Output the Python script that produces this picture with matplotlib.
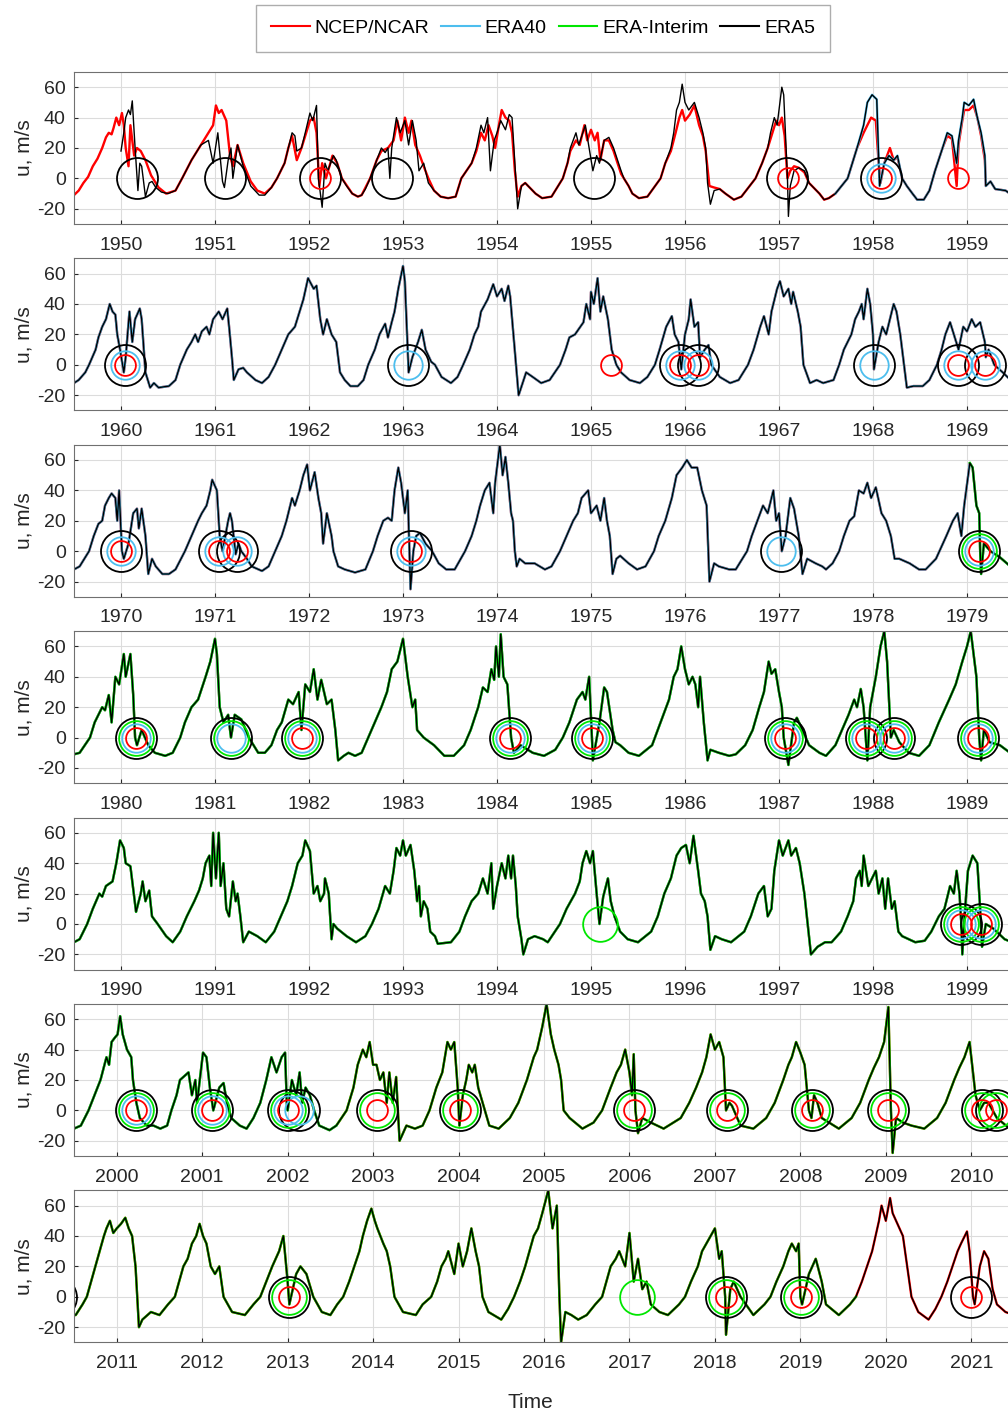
import numpy as np
import matplotlib
matplotlib.use('Agg')
import matplotlib.pyplot as plt
from matplotlib.lines import Line2D

plt.rcParams['font.family'] = ['Liberation Sans', 'DejaVu Sans']
plt.rcParams['axes.unicode_minus'] = False

# zonal wind u (m/s) as (decimal year, u) keypoints
# ERA5 (the other reanalyses coincide with it except NCEP in the 1950s)
era5_1950s = [
    (1950.00, 18), (1950.03, 30), (1950.05, 40), (1950.08, 45), (1950.10, 42), (1950.12, 51), (1950.15, 20),
    (1950.18, -8), (1950.20, 10), (1950.22, 8), (1950.26, -12), (1950.30, -3), (1950.33, -2), (1950.37, -6),
    (1950.43, -9), (1950.50, -10),
    (1950.58, -8), (1950.65, 0), (1950.75, 12), (1950.85, 22), (1950.93, 25), (1950.98, 10), (1951.03, 30),
    (1951.08, -2), (1951.10, -6), (1951.14, 12), (1951.17, 20), (1951.19, 0), (1951.24, 22), (1951.30, 8),
    (1951.38, -5), (1951.47, -11), (1951.53, -11),
    (1951.60, -6), (1951.66, 0), (1951.74, 10), (1951.78, 20), (1951.82, 30), (1951.85, 28), (1951.87, 18),
    (1951.92, 20), (1951.96, 30), (1952.01, 43), (1952.04, 38), (1952.08, 48), (1952.10, 0), (1952.14, -19),
    (1952.17, 10), (1952.20, 5), (1952.26, 15), (1952.29, 12), (1952.35, 0), (1952.40, -5), (1952.46, -10),
    (1952.52, -12),
    (1952.56, -11), (1952.60, -7), (1952.65, 0), (1952.72, 12), (1952.77, 20), (1952.81, 17), (1952.84, 20),
    (1952.86, 0), (1952.88, 20), (1952.93, 40), (1952.97, 30), (1953.02, 38), (1953.06, 22), (1953.10, 38),
    (1953.14, 25), (1953.17, 5), (1953.22, 10), (1953.27, -3), (1953.33, -8), (1953.40, -12), (1953.48, -13),
    (1953.56, -12), (1953.62, 0), (1953.73, 10), (1953.78, 20), (1953.83, 35), (1953.86, 30), (1953.90, 40),
    (1953.93, 5), (1953.97, 25), (1954.00, 30), (1954.04, 38), (1954.09, 32), (1954.13, 42), (1954.16, 40),
    (1954.19, 10), (1954.22, -20), (1954.26, -5), (1954.30, -3), (1954.41, -10), (1954.48, -13),
    (1954.58, -12), (1954.70, 0), (1954.75, 10), (1954.78, 20), (1954.84, 30), (1954.87, 22), (1954.94, 35),
    (1954.98, 20), (1955.02, 5), (1955.06, 15), (1955.09, 10), (1955.14, 25), (1955.19, 27), (1955.24, 20),
    (1955.32, 5), (1955.35, 0), (1955.40, -5), (1955.44, -10), (1955.51, -13),
    (1955.60, -12), (1955.74, 0), (1955.79, 10), (1955.85, 20), (1955.88, 30), (1955.91, 45), (1955.94, 50),
    (1955.97, 62), (1956.00, 50), (1956.04, 45), (1956.10, 50), (1956.15, 40), (1956.19, 30), (1956.22, 20),
    (1956.24, -3), (1956.27, -17), (1956.31, -8), (1956.37, -7), (1956.43, -10), (1956.52, -14),
    (1956.60, -12), (1956.75, 0), (1956.82, 10), (1956.88, 20), (1956.91, 30), (1956.95, 40), (1956.98, 35),
    (1957.03, 60), (1957.05, 55), (1957.09, 0), (1957.10, -25), (1957.12, -5), (1957.16, 5), (1957.21, 7),
    (1957.27, 5), (1957.32, -3), (1957.43, -10), (1957.48, -14), (1957.53, -13),
    (1957.60, -10), (1957.73, 0), (1957.78, 10), (1957.83, 20), (1957.90, 35), (1957.94, 50), (1957.99, 55),
    (1958.04, 52), (1958.06, 15), (1958.07, -5), (1958.12, 10), (1958.17, 15), (1958.22, 12), (1958.26, 15),
    (1958.31, 0), (1958.36, -5), (1958.42, -10), (1958.47, -14), (1958.54, -14),
    (1958.60, -8), (1958.66, 5), (1958.74, 20), (1958.79, 30), (1958.84, 28), (1958.89, 10), (1958.91, 25),
    (1958.95, 40), (1958.97, 50), (1959.02, 48), (1959.07, 52), (1959.11, 40), (1959.15, 30), (1959.19, 15),
    (1959.20, -5), (1959.25, -2), (1959.30, -7), (1959.41, -8), (1959.48, -11),
]

ncep_1950s = [
    (1949.50, -11), (1949.55, -8), (1949.60, -3), (1949.65, 1), (1949.70, 8), (1949.75, 13), (1949.80, 20),
    (1949.84, 27), (1949.87, 30), (1949.90, 29), (1949.92, 33), (1949.95, 40), (1949.98, 35), (1950.01, 43),
    (1950.03, 35), (1950.05, 20), (1950.08, 8), (1950.10, 35), (1950.14, 15), (1950.17, 20), (1950.21, 18),
    (1950.26, 12), (1950.32, 2), (1950.40, -6), (1950.48, -10),
    (1950.58, -8), (1950.65, 0), (1950.75, 12), (1950.85, 22), (1950.95, 32), (1950.98, 35), (1951.01, 48),
    (1951.04, 43), (1951.07, 45), (1951.12, 38), (1951.16, 15), (1951.19, 8), (1951.24, 22), (1951.30, 10),
    (1951.38, -2), (1951.45, -8), (1951.53, -10),
    (1951.60, -6), (1951.66, 0), (1951.74, 10), (1951.78, 20), (1951.82, 28), (1951.87, 12), (1951.92, 20),
    (1951.96, 28), (1952.01, 38), (1952.05, 40), (1952.08, 30), (1952.11, -5), (1952.14, 10), (1952.18, 0),
    (1952.25, 15), (1952.30, 10), (1952.35, 0), (1952.46, -10), (1952.52, -12),
    (1952.56, -11), (1952.65, 0), (1952.72, 12), (1952.77, 18), (1952.84, 20), (1952.90, 25), (1952.94, 38),
    (1952.98, 25), (1953.02, 40), (1953.06, 30), (1953.09, 38), (1953.13, 22), (1953.18, 15), (1953.22, 8),
    (1953.27, 0), (1953.33, -8), (1953.40, -12), (1953.48, -13),
    (1953.56, -12), (1953.62, 0), (1953.73, 10), (1953.78, 18), (1953.83, 30), (1953.87, 25), (1953.91, 35),
    (1953.95, 28), (1953.98, 20), (1954.02, 35), (1954.05, 45), (1954.09, 40), (1954.13, 38), (1954.16, 30),
    (1954.19, 5), (1954.22, -12), (1954.26, -5), (1954.30, -3), (1954.41, -10), (1954.48, -13),
    (1954.58, -12), (1954.70, 0), (1954.75, 10), (1954.78, 18), (1954.84, 25), (1954.88, 22), (1954.93, 35),
    (1954.96, 25), (1955.00, 32), (1955.04, 25), (1955.07, 30), (1955.10, 12), (1955.14, 25), (1955.19, 25),
    (1955.24, 18), (1955.32, 3), (1955.40, -5), (1955.44, -10), (1955.51, -13),
    (1955.60, -12), (1955.74, 0), (1955.79, 10), (1955.85, 18), (1955.90, 30), (1955.94, 40), (1955.97, 45),
    (1956.00, 38), (1956.05, 42), (1956.10, 48), (1956.15, 35), (1956.19, 28), (1956.22, 18), (1956.26, -5),
    (1956.31, -6), (1956.37, -7), (1956.43, -10), (1956.52, -14),
    (1956.60, -12), (1956.75, 0), (1956.82, 10), (1956.88, 20), (1956.93, 30), (1956.97, 38), (1957.00, 35),
    (1957.03, 40), (1957.06, 28), (1957.09, 0), (1957.12, 5), (1957.16, 8), (1957.21, 7), (1957.27, 4),
    (1957.32, -3), (1957.43, -10), (1957.48, -14), (1957.53, -13),
    (1957.60, -10), (1957.73, 0), (1957.78, 10), (1957.83, 20), (1957.90, 30), (1957.94, 35), (1957.98, 40),
    (1958.03, 38), (1958.06, 10), (1958.08, -3), (1958.12, 10), (1958.18, 20), (1958.22, 12), (1958.26, 14),
    (1958.31, 0), (1958.36, -5), (1958.42, -10), (1958.47, -14), (1958.54, -14),
    (1958.60, -8), (1958.66, 5), (1958.74, 20), (1958.79, 28), (1958.84, 26), (1958.89, -5), (1958.91, 22),
    (1958.95, 38), (1958.97, 45), (1959.02, 45), (1959.07, 48), (1959.11, 40), (1959.15, 28), (1959.19, 12),
    (1959.20, -5), (1959.25, -2), (1959.30, -7), (1959.41, -8), (1959.48, -11),
]

era5_1960s = [
    (1959.50, -12), (1959.55, -10), (1959.62, -5), (1959.66, 0), (1959.73, 10), (1959.76, 18), (1959.80, 25),
    (1959.84, 30), (1959.88, 40), (1959.91, 35), (1959.94, 33), (1959.96, 20), (1959.99, 10), (1960.03, -5),
    (1960.05, 5), (1960.09, 35), (1960.12, 15), (1960.15, 30), (1960.20, 37), (1960.22, 30), (1960.26, -5),
    (1960.31, -15), (1960.35, -12), (1960.40, -15), (1960.51, -14),
    (1960.58, -10), (1960.63, 0), (1960.70, 10), (1960.75, 15), (1960.79, 20), (1960.82, 15), (1960.86, 22),
    (1960.91, 25), (1960.94, 20), (1960.98, 30), (1961.04, 35), (1961.08, 30), (1961.13, 37), (1961.15, 25),
    (1961.18, 5), (1961.20, -10), (1961.25, -3), (1961.30, -2), (1961.34, -5), (1961.43, -10), (1961.50, -12),
    (1961.57, -8), (1961.64, 0), (1961.71, 10), (1961.78, 20), (1961.85, 25), (1961.90, 35), (1961.94, 43),
    (1961.99, 57), (1962.05, 50), (1962.08, 52), (1962.12, 30), (1962.15, 20), (1962.19, 30), (1962.24, 20),
    (1962.29, 15), (1962.33, -5), (1962.38, -10), (1962.44, -14), (1962.52, -14),
    (1962.58, -10), (1962.63, 0), (1962.70, 10), (1962.75, 20), (1962.81, 27), (1962.84, 18), (1962.88, 28),
    (1962.91, 35), (1962.95, 50), (1963.00, 65), (1963.02, 55), (1963.06, -5), (1963.10, 5), (1963.16, 15),
    (1963.20, 23), (1963.24, 10), (1963.30, 2), (1963.34, 0), (1963.41, -8), (1963.51, -12),
    (1963.58, -8), (1963.64, 0), (1963.71, 10), (1963.76, 20), (1963.80, 25), (1963.83, 35), (1963.90, 43),
    (1963.96, 53), (1964.00, 45), (1964.05, 50), (1964.08, 42), (1964.12, 52), (1964.14, 45), (1964.23, -20),
    (1964.31, -5), (1964.38, -8), (1964.47, -12), (1964.56, -10),
    (1964.67, 0), (1964.73, 10), (1964.77, 18), (1964.83, 20), (1964.92, 28), (1964.95, 40), (1964.99, 30),
    (1965.00, 48), (1965.03, 40), (1965.07, 57), (1965.10, 35), (1965.13, 45), (1965.18, 30), (1965.22, 10),
    (1965.27, 0), (1965.32, -5), (1965.41, -10), (1965.52, -12),
    (1965.60, -8), (1965.68, 0), (1965.73, 10), (1965.80, 25), (1965.86, 32), (1965.89, 20), (1965.93, 15),
    (1965.96, -3), (1966.00, 20), (1966.04, 30), (1966.06, 43), (1966.10, 25), (1966.14, 28), (1966.16, 5),
    (1966.21, 10), (1966.25, 13), (1966.28, 0), (1966.37, -8), (1966.48, -12), (1966.57, -10),
    (1966.67, 0), (1966.73, 10), (1966.80, 25), (1966.84, 32), (1966.89, 20), (1966.92, 35), (1966.98, 50),
    (1967.01, 55), (1967.05, 45), (1967.10, 50), (1967.13, 40), (1967.15, 48), (1967.20, 35), (1967.23, 25),
    (1967.26, 0), (1967.33, -12), (1967.40, -10), (1967.47, -12), (1967.58, -10),
    (1967.64, 0), (1967.69, 10), (1967.77, 20), (1967.81, 30), (1967.85, 35), (1967.88, 40), (1967.90, 30),
    (1967.94, 50), (1967.97, 40), (1968.00, 20), (1968.01, -3), (1968.06, 15), (1968.10, 25), (1968.14, 20),
    (1968.18, 30), (1968.22, 40), (1968.25, 35), (1968.29, 20), (1968.33, 0), (1968.36, -15), (1968.43, -14),
    (1968.53, -14),
    (1968.60, -10), (1968.68, 0), (1968.73, 10), (1968.77, 20), (1968.82, 28), (1968.86, 20), (1968.91, 10),
    (1968.96, 25), (1969.00, 22), (1969.05, 30), (1969.09, 25), (1969.14, 28), (1969.19, 15), (1969.20, 5),
    (1969.23, 10), (1969.29, 0), (1969.38, -5), (1969.48, -11),
]

era5_1970s = [
    (1969.50, -12), (1969.56, -10), (1969.66, 0), (1969.71, 10), (1969.76, 18), (1969.80, 20), (1969.83, 30),
    (1969.87, 35), (1969.90, 38), (1969.94, 35), (1969.96, 20), (1969.98, 40), (1970.01, 0), (1970.03, -5),
    (1970.08, 5), (1970.13, 25), (1970.17, 28), (1970.19, 15), (1970.22, 28), (1970.26, 10), (1970.29, -15),
    (1970.33, -5), (1970.37, -10), (1970.44, -15), (1970.51, -15),
    (1970.58, -12), (1970.68, 0), (1970.75, 10), (1970.82, 20), (1970.86, 25), (1970.91, 30), (1970.95, 40),
    (1970.97, 47), (1971.02, 40), (1971.05, 10), (1971.08, 0), (1971.11, 10), (1971.14, 20), (1971.16, 25),
    (1971.18, 20), (1971.22, -2), (1971.25, 5), (1971.28, 0), (1971.34, -5), (1971.39, -10), (1971.50, -13),
    (1971.57, -10), (1971.64, 0), (1971.71, 10), (1971.76, 20), (1971.82, 35), (1971.85, 30), (1971.90, 40),
    (1971.94, 50), (1971.98, 57), (1972.01, 40), (1972.06, 52), (1972.10, 35), (1972.13, 25), (1972.15, 5),
    (1972.19, 25), (1972.24, 10), (1972.26, 0), (1972.31, -10), (1972.38, -12), (1972.49, -14),
    (1972.60, -12), (1972.68, 0), (1972.73, 10), (1972.79, 20), (1972.84, 22), (1972.88, 20), (1972.91, 40),
    (1972.95, 55), (1972.98, 45), (1973.02, 25), (1973.05, 40), (1973.08, -25), (1973.11, 0), (1973.14, 10),
    (1973.18, 12), (1973.24, 5), (1973.31, 0), (1973.38, -8), (1973.46, -12), (1973.55, -12),
    (1973.66, 0), (1973.73, 10), (1973.78, 20), (1973.82, 30), (1973.87, 40), (1973.92, 45), (1973.96, 25),
    (1973.98, 45), (1974.03, 70), (1974.06, 50), (1974.09, 62), (1974.12, 45), (1974.15, 25), (1974.17, 20),
    (1974.19, 0), (1974.21, -10), (1974.24, -5), (1974.30, -8), (1974.40, -8), (1974.51, -12),
    (1974.58, -10), (1974.67, 0), (1974.74, 10), (1974.81, 20), (1974.86, 25), (1974.90, 35), (1974.97, 40),
    (1975.00, 25), (1975.06, 30), (1975.10, 20), (1975.14, 35), (1975.17, 20), (1975.20, 10), (1975.23, -15),
    (1975.27, -5), (1975.31, -3), (1975.40, -8), (1975.49, -12),
    (1975.58, -10), (1975.67, 0), (1975.72, 10), (1975.79, 20), (1975.86, 35), (1975.91, 50), (1975.97, 55),
    (1976.02, 60), (1976.07, 55), (1976.13, 55), (1976.18, 40), (1976.23, 30), (1976.26, -20), (1976.31, -8),
    (1976.36, -10), (1976.47, -12), (1976.54, -12),
    (1976.66, 0), (1976.71, 10), (1976.77, 20), (1976.83, 30), (1976.88, 25), (1976.94, 40), (1976.97, 20),
    (1977.00, 25), (1977.03, 0), (1977.07, 10), (1977.12, 35), (1977.16, 28), (1977.21, 10), (1977.25, -15),
    (1977.30, -5), (1977.39, -8), (1977.46, -10), (1977.50, -12),
    (1977.57, -8), (1977.64, 0), (1977.69, 10), (1977.75, 20), (1977.80, 23), (1977.85, 40), (1977.90, 38),
    (1977.94, 45), (1977.98, 35), (1978.03, 42), (1978.09, 25), (1978.14, 20), (1978.19, 10), (1978.23, -5),
    (1978.28, -5), (1978.39, -8), (1978.49, -12), (1978.56, -12),
    (1978.67, -5), (1978.78, 10), (1978.85, 20), (1978.90, 25), (1978.94, 10), (1978.97, 30), (1979.03, 58),
    (1979.06, 55), (1979.10, 30), (1979.13, 25), (1979.14, 0), (1979.15, -15), (1979.18, 5), (1979.25, 0),
    (1979.35, -4), (1979.48, -11),
]

era5_1980s = [
    (1979.50, -11), (1979.56, -10), (1979.67, 0), (1979.72, 10), (1979.80, 20), (1979.83, 18), (1979.87, 28),
    (1979.90, 10), (1979.94, 40), (1979.98, 35), (1980.03, 55), (1980.05, 40), (1980.10, 55), (1980.13, 28),
    (1980.15, 0), (1980.17, -5), (1980.22, 5), (1980.29, -5), (1980.36, -10), (1980.47, -12),
    (1980.55, -10), (1980.63, 0), (1980.68, 10), (1980.75, 20), (1980.82, 25), (1980.90, 40), (1980.95, 50),
    (1981.00, 65), (1981.02, 55), (1981.05, 20), (1981.09, 10), (1981.14, 15), (1981.17, 0), (1981.21, 15),
    (1981.28, 12), (1981.36, 0), (1981.46, -10), (1981.53, -10),
    (1981.60, -5), (1981.66, 5), (1981.71, 10), (1981.78, 25), (1981.83, 22), (1981.89, 30), (1981.92, 5),
    (1981.96, 35), (1982.01, 30), (1982.05, 45), (1982.09, 25), (1982.13, 38), (1982.19, 22), (1982.24, 25),
    (1982.28, 5), (1982.31, -15), (1982.37, -12), (1982.42, -10), (1982.49, -12),
    (1982.56, -10), (1982.63, 0), (1982.70, 10), (1982.77, 20), (1982.83, 30), (1982.88, 45), (1982.94, 50),
    (1983.00, 65), (1983.05, 40), (1983.10, 20), (1983.13, 25), (1983.15, 5), (1983.22, 0), (1983.33, -5),
    (1983.44, -12), (1983.54, -12),
    (1983.65, -5), (1983.72, 5), (1983.80, 20), (1983.85, 33), (1983.90, 30), (1983.94, 45), (1983.97, 38),
    (1983.99, 60), (1984.02, 40), (1984.04, 68), (1984.07, 40), (1984.11, 35), (1984.15, 0), (1984.18, -10),
    (1984.25, -5), (1984.38, -10), (1984.50, -12),
    (1984.62, -8), (1984.70, 0), (1984.77, 10), (1984.85, 25), (1984.91, 30), (1984.94, 25), (1984.98, 40),
    (1985.01, 0), (1985.02, -15), (1985.09, 10), (1985.14, 33), (1985.17, 30), (1985.23, 5), (1985.26, -3),
    (1985.31, -5), (1985.40, -10), (1985.51, -12),
    (1985.65, -5), (1985.74, 10), (1985.83, 25), (1985.88, 40), (1985.92, 45), (1985.96, 60), (1986.00, 45),
    (1986.04, 35), (1986.08, 40), (1986.11, 35), (1986.14, 20), (1986.16, 40), (1986.20, 10), (1986.24, -15),
    (1986.27, -8), (1986.36, -10), (1986.47, -12), (1986.54, -11),
    (1986.64, -5), (1986.72, 5), (1986.79, 20), (1986.84, 30), (1986.89, 50), (1986.92, 42), (1986.96, 45),
    (1987.00, 30), (1987.03, 20), (1987.05, 0), (1987.10, -18), (1987.16, 10), (1987.19, 13), (1987.25, 5),
    (1987.32, -5), (1987.43, -10), (1987.50, -12),
    (1987.60, -5), (1987.67, 5), (1987.74, 15), (1987.80, 25), (1987.83, 20), (1987.87, 32), (1987.90, 20),
    (1987.94, -15), (1987.97, 20), (1988.03, 40), (1988.08, 60), (1988.12, 70), (1988.15, 50), (1988.19, 0),
    (1988.22, 5), (1988.28, -3), (1988.38, -10), (1988.49, -12),
    (1988.60, -5), (1988.70, 10), (1988.81, 25), (1988.88, 35), (1988.95, 50), (1989.00, 60), (1989.04, 70),
    (1989.07, 55), (1989.10, 40), (1989.13, 0), (1989.15, -15), (1989.18, 5), (1989.24, -3), (1989.35, -5),
    (1989.48, -11),
]

era5_1990s = [
    (1989.50, -12), (1989.56, -10), (1989.64, 0), (1989.70, 10), (1989.77, 20), (1989.80, 18), (1989.84, 25),
    (1989.91, 28), (1989.95, 40), (1989.99, 55), (1990.03, 50), (1990.05, 40), (1990.10, 38), (1990.16, 8),
    (1990.21, 20), (1990.23, 28), (1990.26, 15), (1990.30, 22), (1990.33, 5), (1990.39, 0), (1990.48, -8),
    (1990.55, -12),
    (1990.63, -5), (1990.70, 5), (1990.78, 15), (1990.83, 22), (1990.87, 30), (1990.90, 40), (1990.94, 45),
    (1990.96, 25), (1990.98, 60), (1991.01, 30), (1991.04, 60), (1991.06, 25), (1991.09, 40), (1991.12, 10),
    (1991.15, 5), (1991.19, 28), (1991.22, 15), (1991.24, 20), (1991.27, 5), (1991.30, -12), (1991.36, -5),
    (1991.45, -8), (1991.54, -12),
    (1991.63, -5), (1991.70, 5), (1991.77, 15), (1991.82, 25), (1991.88, 40), (1991.93, 45), (1991.96, 55),
    (1992.01, 48), (1992.05, 20), (1992.09, 25), (1992.12, 15), (1992.16, 20), (1992.17, 30), (1992.21, 20),
    (1992.24, -10), (1992.26, 0), (1992.30, -3), (1992.40, -8), (1992.50, -12),
    (1992.60, -8), (1992.67, 0), (1992.74, 10), (1992.81, 25), (1992.86, 20), (1992.90, 35), (1992.93, 50),
    (1992.97, 45), (1993.00, 55), (1993.03, 45), (1993.08, 52), (1993.12, 35), (1993.15, 15), (1993.17, 25),
    (1993.19, 5), (1993.22, 15), (1993.26, 10), (1993.29, -5), (1993.34, -8), (1993.37, -13), (1993.51, -12),
    (1993.60, -5), (1993.66, 5), (1993.73, 15), (1993.80, 20), (1993.85, 30), (1993.90, 20), (1993.94, 40),
    (1993.96, 10), (1994.00, 25), (1994.05, 40), (1994.09, 30), (1994.12, 45), (1994.15, 30), (1994.17, 45),
    (1994.20, 25), (1994.22, 5), (1994.26, -10), (1994.28, -20), (1994.33, -10), (1994.40, -8), (1994.49, -10),
    (1994.54, -12),
    (1994.67, 0), (1994.74, 10), (1994.83, 20), (1994.88, 28), (1994.91, 40), (1994.95, 48), (1994.99, 40),
    (1995.02, 48), (1995.06, 20), (1995.09, 0), (1995.13, 18), (1995.18, 30), (1995.21, 15), (1995.25, 5),
    (1995.31, -5), (1995.39, -10), (1995.50, -12),
    (1995.64, -5), (1995.71, 5), (1995.78, 20), (1995.85, 30), (1995.91, 45), (1995.96, 50), (1996.01, 52),
    (1996.05, 40), (1996.09, 58), (1996.14, 35), (1996.17, 20), (1996.21, 15), (1996.24, 5), (1996.27, -17),
    (1996.32, -8), (1996.39, -10), (1996.49, -12),
    (1996.63, -5), (1996.70, 5), (1996.78, 20), (1996.84, 25), (1996.88, 5), (1996.92, 10), (1996.95, 35),
    (1997.00, 55), (1997.04, 45), (1997.10, 55), (1997.13, 45), (1997.18, 50), (1997.22, 40), (1997.27, 20),
    (1997.34, -20), (1997.41, -15), (1997.49, -12), (1997.56, -12),
    (1997.66, -5), (1997.73, 5), (1997.79, 15), (1997.82, 30), (1997.86, 35), (1997.88, 25), (1997.90, 45),
    (1997.95, 25), (1998.03, 35), (1998.06, 20), (1998.10, 30), (1998.13, 10), (1998.16, 30), (1998.20, 10),
    (1998.23, 15), (1998.27, -5), (1998.31, -8), (1998.38, -10), (1998.45, -12), (1998.55, -11),
    (1998.62, -5), (1998.70, 5), (1998.76, 10), (1998.82, 25), (1998.86, 20), (1998.89, 35), (1998.92, 20),
    (1998.94, 0), (1998.95, -20), (1998.98, 10), (1999.01, 35), (1999.06, 45), (1999.11, 40), (1999.14, 10),
    (1999.16, -15), (1999.20, 0), (1999.28, -3), (1999.40, -10), (1999.48, -12),
]

era5_2000s = [
    (1999.50, -12), (1999.58, -10), (1999.67, 0), (1999.74, 10), (1999.81, 20), (1999.88, 35), (1999.91, 30),
    (1999.94, 45), (1999.98, 48), (2000.01, 50), (2000.04, 62), (2000.07, 50), (2000.12, 40), (2000.17, 35),
    (2000.19, 20), (2000.23, 5), (2000.27, -5), (2000.35, -10), (2000.43, -10), (2000.51, -12),
    (2000.59, -10), (2000.64, 0), (2000.70, 10), (2000.74, 20), (2000.84, 25), (2000.88, 10), (2000.92, 20),
    (2000.94, 5), (2001.01, 38), (2001.05, 35), (2001.09, 15), (2001.13, 0), (2001.20, 15), (2001.25, 18),
    (2001.29, 5), (2001.34, -5), (2001.44, -10), (2001.52, -12),
    (2001.60, -5), (2001.68, 5), (2001.75, 20), (2001.81, 35), (2001.87, 25), (2001.93, 35), (2001.97, 38),
    (2001.99, 5), (2002.00, 0), (2002.05, 20), (2002.10, 10), (2002.14, 25), (2002.17, 5), (2002.21, 15),
    (2002.26, 10), (2002.31, 0), (2002.37, -10), (2002.49, -13),
    (2002.57, -10), (2002.69, 0), (2002.77, 15), (2002.82, 30), (2002.88, 40), (2002.92, 35), (2002.96, 45),
    (2003.00, 30), (2003.04, 30), (2003.08, 20), (2003.12, 25), (2003.16, 5), (2003.19, 25), (2003.23, 5),
    (2003.27, 22), (2003.29, 0), (2003.31, -20), (2003.39, -10), (2003.49, -12),
    (2003.58, -10), (2003.66, 0), (2003.74, 15), (2003.81, 25), (2003.87, 45), (2003.91, 40), (2003.95, 45),
    (2003.99, 15), (2004.01, -10), (2004.05, 10), (2004.09, 20), (2004.12, 30), (2004.16, 25), (2004.19, 30),
    (2004.23, 15), (2004.36, -10), (2004.47, -12),
    (2004.60, -5), (2004.70, 5), (2004.80, 20), (2004.88, 35), (2004.92, 40), (2004.98, 55), (2005.03, 70),
    (2005.08, 50), (2005.12, 40), (2005.17, 30), (2005.20, 20), (2005.23, 0), (2005.30, -5), (2005.45, -12),
    (2005.58, -8), (2005.68, 0), (2005.78, 15), (2005.85, 25), (2005.90, 30), (2005.95, 40), (2006.00, 25),
    (2006.03, 10), (2006.05, 37), (2006.07, 0), (2006.10, -15), (2006.15, -5), (2006.25, -8), (2006.40, -12),
    (2006.60, -5), (2006.70, 5), (2006.78, 15), (2006.85, 25), (2006.90, 35), (2006.95, 50), (2007.00, 40),
    (2007.05, 45), (2007.10, 35), (2007.13, 0), (2007.17, 5), (2007.20, 3), (2007.30, -10), (2007.45, -12),
    (2007.60, -5), (2007.70, 5), (2007.80, 20), (2007.86, 30), (2007.90, 35), (2007.95, 45), (2008.00, 38),
    (2008.05, 30), (2008.10, 0), (2008.13, -5), (2008.16, 10), (2008.20, 5), (2008.25, -5), (2008.45, -12),
    (2008.60, -5), (2008.70, 5), (2008.80, 20), (2008.86, 28), (2008.92, 35), (2008.98, 45), (2009.03, 68),
    (2009.06, 0), (2009.08, -28), (2009.12, -5), (2009.20, -8), (2009.30, -10), (2009.45, -12),
    (2009.60, -5), (2009.70, 5), (2009.80, 20), (2009.86, 28), (2009.92, 35), (2009.98, 45), (2010.02, 25),
    (2010.05, 10), (2010.10, 0), (2010.15, 5), (2010.20, 5), (2010.25, 0), (2010.30, -5), (2010.45, -12),
]

era5_2010s = [
    (2010.52, -12), (2010.60, -5), (2010.65, 0), (2010.75, 20), (2010.80, 30), (2010.85, 40), (2010.88, 45),
    (2010.92, 50), (2010.96, 42), (2011.00, 45), (2011.05, 48), (2011.10, 52), (2011.14, 45), (2011.18, 40),
    (2011.22, 20), (2011.26, -20), (2011.30, -15), (2011.40, -10), (2011.50, -12),
    (2011.60, -5), (2011.68, 0), (2011.78, 20), (2011.83, 25), (2011.88, 35), (2011.93, 40), (2011.97, 48),
    (2012.01, 40), (2012.05, 35), (2012.10, 20), (2012.15, 15), (2012.20, 20), (2012.25, 0), (2012.35, -10),
    (2012.50, -12),
    (2012.60, -5), (2012.68, 0), (2012.75, 10), (2012.82, 20), (2012.90, 30), (2012.95, 40), (2013.00, 10),
    (2013.02, -5), (2013.06, 5), (2013.10, 15), (2013.15, 20), (2013.22, 15), (2013.30, 0), (2013.40, -10),
    (2013.50, -12),
    (2013.58, -5), (2013.65, 0), (2013.72, 10), (2013.78, 20), (2013.84, 30), (2013.88, 40), (2013.93, 50),
    (2013.98, 58), (2014.02, 50), (2014.05, 45), (2014.12, 35), (2014.16, 30), (2014.20, 20), (2014.25, 0),
    (2014.35, -10), (2014.50, -12),
    (2014.58, -5), (2014.68, 0), (2014.75, 10), (2014.80, 20), (2014.85, 25), (2014.88, 30), (2014.95, 15),
    (2015.00, 35), (2015.05, 20), (2015.10, 30), (2015.15, 45), (2015.20, 30), (2015.24, 20), (2015.28, 0),
    (2015.35, -10), (2015.50, -15),
    (2015.58, -8), (2015.65, 0), (2015.72, 10), (2015.78, 20), (2015.83, 30), (2015.88, 40), (2015.93, 45),
    (2015.98, 55), (2016.05, 70), (2016.10, 45), (2016.15, 60), (2016.18, 0), (2016.20, -30), (2016.25, -10),
    (2016.32, -12), (2016.40, -15), (2016.50, -12),
    (2016.60, -5), (2016.68, 0), (2016.78, 20), (2016.84, 25), (2016.88, 30), (2016.95, 20), (2017.00, 42),
    (2017.05, 10), (2017.10, 25), (2017.15, 5), (2017.20, 10), (2017.25, -5), (2017.35, -10), (2017.45, -12),
    (2017.58, -5), (2017.65, 0), (2017.72, 10), (2017.80, 20), (2017.85, 30), (2017.90, 35), (2017.95, 40),
    (2018.00, 45), (2018.05, 25), (2018.08, 30), (2018.12, 0), (2018.13, -25), (2018.18, 5), (2018.22, 10),
    (2018.30, 0), (2018.45, -12),
    (2018.58, -5), (2018.65, 0), (2018.72, 10), (2018.80, 20), (2018.86, 30), (2018.90, 35), (2018.95, 30),
    (2018.98, 35), (2019.00, 0), (2019.02, -5), (2019.10, 15), (2019.18, 25), (2019.25, 10), (2019.30, -5),
    (2019.45, -12),
    (2019.58, -5), (2019.65, 0), (2019.72, 10), (2019.78, 20), (2019.84, 30), (2019.88, 40), (2019.92, 50),
    (2019.95, 60), (2020.00, 50), (2020.05, 65), (2020.08, 55), (2020.12, 50), (2020.16, 45), (2020.20, 40),
    (2020.25, 20), (2020.30, 0), (2020.38, -10), (2020.50, -15),
    (2020.58, -8), (2020.65, 0), (2020.72, 10), (2020.78, 20), (2020.84, 30), (2020.88, 35), (2020.95, 43),
    (2020.98, 30), (2021.02, 0), (2021.04, -5), (2021.10, 20), (2021.15, 30), (2021.20, 25), (2021.25, 5),
    (2021.30, -5), (2021.40, -10), (2021.50, -12),
]

# sudden stratospheric warming dates (decimal year) marked by circles
ssw_ncep = [1952.12, 1957.10, 1958.085, 1958.90, 1960.04, 1965.21, 1965.95, 1966.14, 1968.90, 1969.19,
            1970.00, 1971.04, 1971.23, 1973.085, 1979.13, 1980.16, 1981.93, 1984.14, 1985.01, 1987.06,
            1987.93, 1988.22, 1989.12, 1998.94, 1999.15, 2000.23, 2001.12, 2002.00, 2003.05, 2004.02,
            2006.05, 2007.14, 2008.14, 2009.02, 2010.12, 2010.29, 2013.02, 2018.13, 2019.01, 2021.00]
ssw_era40 = [1958.085, 1960.04, 1963.05, 1965.95, 1966.14, 1968.01, 1968.90, 1969.19, 1970.00, 1971.04,
             1971.23, 1973.085, 1977.02, 1979.13, 1980.16, 1981.17, 1981.93, 1984.14, 1985.01, 1987.06,
             1987.93, 1988.22, 1989.12, 1998.94, 1999.15, 2000.23, 2001.12, 2002.00, 2002.13]
ssw_erai = [1979.13, 1980.16, 1981.17, 1981.93, 1984.14, 1985.01, 1987.06, 1987.93, 1988.22, 1989.12,
            1995.10, 1998.94, 1999.15, 2000.23, 2001.12, 2002.00, 2003.05, 2004.02, 2006.05, 2007.14,
            2008.14, 2009.02, 2010.12, 2010.29, 2013.02, 2017.09, 2018.13, 2019.01]
ssw_era5 = [1950.17, 1951.11, 1952.12, 1952.88, 1955.03, 1957.085, 1958.085, 1960.04, 1963.05, 1965.95,
            1966.14, 1968.01, 1968.90, 1969.19, 1970.00, 1971.04, 1971.23, 1973.085, 1977.02, 1979.13,
            1980.16, 1981.17, 1981.93, 1984.14, 1985.01, 1987.06, 1987.93, 1988.22, 1989.12, 1998.94,
            1999.15, 2000.23, 2001.12, 2002.00, 2002.13, 2003.05, 2004.02, 2006.05, 2007.14, 2008.14,
            2009.02, 2010.12, 2010.29, 2013.02, 2018.13, 2019.01, 2021.00]

panel_start = [1949.5, 1959.5, 1969.5, 1979.5, 1989.5, 1999.5, 2010.5]
panel_end = [1959.5, 1969.5, 1979.5, 1989.5, 1999.5, 2010.5, 2021.5]

RED, CYAN, GREEN = '#ff0000', '#4dbeee', '#00e600'


def to_xy(*chunks):
    pts = np.array([p for c in chunks for p in c], dtype=float)
    return pts[:, 0], pts[:, 1]


later = [era5_1960s, era5_1970s, era5_1980s, era5_1990s, era5_2000s, era5_2010s]
t5, u5 = to_xy(era5_1950s, *later)
tn, un = to_xy(ncep_1950s, *later)
m40 = (t5 >= 1957.6) & (t5 <= 2002.67)
mei = (t5 >= 1979.0) & (t5 <= 2019.67)

fig = plt.figure(figsize=(10.08, 14.16), dpi=100)
W, H = 1008.0, 1416.0

for i in range(7):
    top = 72 + i * 186.4
    ax = fig.add_axes([74 / W, 1 - (top + 152) / H, 940 / W, 152 / H])
    ax.plot(tn, un, color=RED, lw=1.7)
    ax.plot(t5[m40], u5[m40], color=CYAN, lw=1.7)
    ax.plot(t5[mei], u5[mei], color=GREEN, lw=1.7)
    ax.plot(t5, u5, color='k', lw=1.0)
    for dates, col, ms in [(ssw_era5, 'k', 29.5), (ssw_erai, GREEN, 25.0),
                           (ssw_era40, CYAN, 20.5), (ssw_ncep, RED, 15.0)]:
        d = np.array(dates)
        ax.plot(d, np.zeros_like(d), 'o', ms=ms, mfc='none', mec=col, mew=1.3)
    ax.set_xlim(panel_start[i], panel_end[i])
    ax.set_ylim(-30, 70)
    years = np.arange(int(panel_start[i]) + 1, int(panel_end[i]) + 1)
    ax.set_xticks(years)
    ax.set_xticklabels([str(y) for y in years])
    ax.set_yticks([-20, 0, 20, 40, 60])
    ax.grid(True, color='#dcdcdc', lw=0.8)
    ax.set_axisbelow(True)
    ax.tick_params(direction='in', length=3, labelsize=14, colors='#262626')
    ax.tick_params(axis='x', pad=9)
    ax.tick_params(axis='y', pad=6)
    for s in ax.spines.values():
        s.set_color('#707070')
        s.set_linewidth(0.8)
    ax.set_ylabel('u, m/s', fontsize=15, color='#262626')
    ax.yaxis.set_label_coords(-0.043, 0.5)

fig.text(530 / W, 1 - 1402 / H, 'Time', fontsize=15, ha='center', va='center', color='#262626')

handles = [Line2D([], [], color=c, lw=1.5) for c in (RED, CYAN, GREEN, 'k')]
fig.legend(handles, ['NCEP/NCAR', 'ERA40', 'ERA-Interim', 'ERA5'], loc='upper center',
           bbox_to_anchor=(543 / W, 1 - 5 / H), ncol=4, fontsize=14, frameon=True, fancybox=False,
           edgecolor='#999999', handlelength=2.0, handletextpad=0.25, columnspacing=0.6,
           borderpad=0.75, borderaxespad=0.0)

fig.savefig('out.png', dpi=100)
